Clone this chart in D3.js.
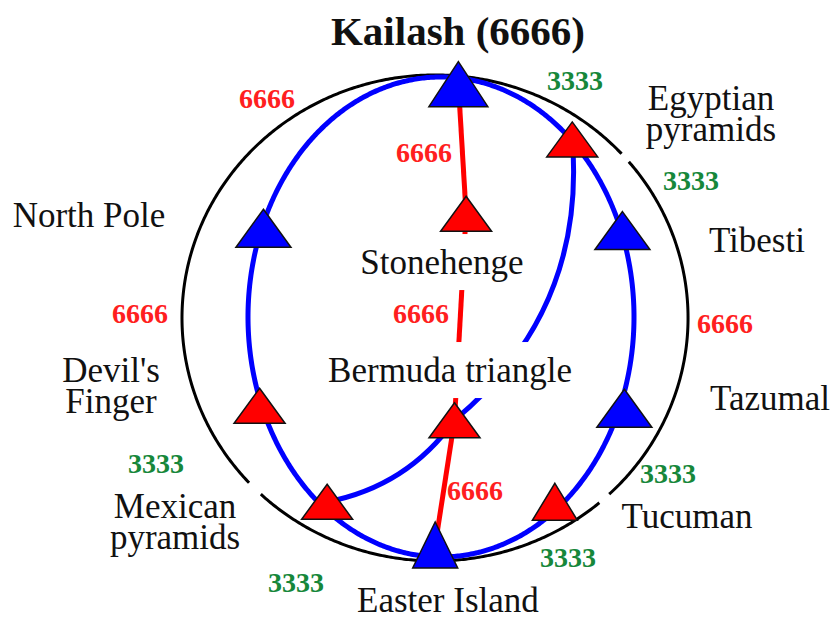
<!DOCTYPE html>
<html>
<head>
<meta charset="utf-8">
<script src="https://cdn.jsdelivr.net/npm/d3@7"></script>
<style>
  html, body { margin: 0; padding: 0; background: #fff; }
  svg { display: block; }
  .name { font-family: "Liberation Serif", "Times New Roman", serif; font-size: 35px; fill: #111; }
  .title { font-weight: bold; font-size: 41px; }
  .value { font-family: "Liberation Serif", "Times New Roman", serif; font-weight: bold; font-size: 28px; }
</style>
</head>
<body>
<div id="chart"></div>
<script>
// places, x / y in ring units (the blue ring is the unit circle, y up)
const places = ['Kailash', 'Egyptian pyramids', 'Tibesti', 'Tazumal', 'Tucuman', 'Easter Island',
  'Mexican pyramids', "Devil's Finger", 'North Pole', 'Stonehenge', 'Bermuda triangle']
const placeText = ['Kailash (6666)', 'Egyptian|pyramids', 'Tibesti', 'Tazumal', 'Tucuman', 'Easter Island',
  'Mexican|pyramids', "Devil's|Finger", 'North Pole', 'Stonehenge', 'Bermuda triangle']
const placeKind = ['blue', 'red', 'blue', 'blue', 'red', 'blue', 'red', 'red', 'blue', 'red', 'red']
const placeX = [0.09, 0.68, 0.94, 0.95, 0.59, -0.03, -0.59, -0.94, -0.92, 0.13, 0.07]
const placeY = [0.97, 0.74, 0.36, -0.38, -0.77, -0.95, -0.77, -0.37, 0.37, 0.43, -0.43]

// links between places and the number written on them
const linkFrom = ['Kailash', 'Egyptian pyramids', 'Tibesti', 'Tazumal', 'Tucuman', 'Easter Island',
  'Mexican pyramids', "Devil's Finger", 'North Pole', 'Kailash', 'Stonehenge', 'Bermuda triangle',
  'Egyptian pyramids', 'Bermuda triangle']
const linkTo = ['Egyptian pyramids', 'Tibesti', 'Tazumal', 'Tucuman', 'Easter Island', 'Mexican pyramids',
  "Devil's Finger", 'North Pole', 'Kailash', 'Stonehenge', 'Bermuda triangle', 'Easter Island',
  'Bermuda triangle', 'Mexican pyramids']
const linkType = ['ring', 'ring', 'ring', 'ring', 'ring', 'ring', 'ring', 'ring', 'ring',
  'axis', 'axis', 'axis', 'cross', 'cross']
const linkValue = [3333, 3333, 6666, 3333, 3333, 3333, 3333, 6666, 6666, 6666, 6666, 6666, null, null]

// ---- layout (ring units unless noted) ----
const width = 833, height = 619
const placeLabelX = [0.088, 1.399, 1.637, 1.705, 1.275, 0.036, -1.378, -1.710, -1.824, 0.005, 0.047]
const placeLabelY = [1.133, 0.863, 0.271, -0.388, -0.879, -1.229, -0.838, -0.271, 0.375, 0.179, -0.271]
const valueLabelX = [0.694, 1.295, 1.472, 1.176, 0.658, -0.751, -1.477, -1.560, -0.902, -0.088, -0.104, 0.176]
const valueLabelY = [0.946, 0.529, -0.067, -0.692, -1.042, -1.146, -0.650, -0.025, 0.871, 0.646, -0.025, -0.763]
const outer = {cx: -0.031, cy: -0.004, rx: 1.311, ry: 1.0125, gaps: [[47.5, 50], [136.5, 139.5], [223.5, 227.3]]}
const triSize = {blue: [55, 38], red: [51, 35], 'Kailash': [59, 45], 'Easter Island': [45, 46], 'Tucuman': [45, 37]}
const bend = {cross: [0.26, 0.2]}
const colors = {blue: '#0000ff', red: '#ff0000', 6666: '#ff1f1f', 3333: '#16873a'}

const x = d3.scaleLinear().domain([-1, 1]).range([248, 634])
const y = d3.scaleLinear().domain([-1, 1]).range([557, 77])

const svg = d3.select('#chart').append('svg')
  .attr('width', width)
  .attr('height', height)

const idx = name => places.indexOf(name)
const angleOf = i => {
  const a = Math.atan2(placeX[i], placeY[i]) * 180 / Math.PI
  return a < 0 ? a + 360 : a
}
// point on an ellipse, angle in degrees clockwise from top
const ellipsePt = (t, e) => {
  const r = t * Math.PI / 180
  return [x(e.cx + e.rx * Math.sin(r)), y(e.cy + e.ry * Math.cos(r))]
}
const unit = {cx: 0, cy: 0, rx: 1, ry: 1}
const arcPts = (a, b, e) => {
  if (b < a) b += 360
  const pts = d3.range(a, b, 0.5).map(t => ellipsePt(t, e))
  pts.push(ellipsePt(b, e))
  return pts
}
const line = d3.line()

//outer black ring, drawn in pieces between the gaps
const gaps = outer.gaps
const pieces = gaps.map((g, i) => [g[1], gaps[(i + 1) % gaps.length][0]])
svg.append('g').selectAll('path')
  .data(pieces)
  .join('path')
  .attr('d', p => line(arcPts(p[0], p[1], outer)))
  .attr('fill', 'none')
  .attr('stroke', '#000')
  .attr('stroke-width', 3)

//links
const links = linkFrom.map((f, i) => ({from: idx(f), to: idx(linkTo[i]), type: linkType[i], value: linkValue[i]}))
let crossN = 0
const linkPath = l => {
  if (l.type === 'ring') return line(arcPts(angleOf(l.from), angleOf(l.to), unit))
  const p0 = [x(placeX[l.from]), y(placeY[l.from])]
  const p2 = [x(placeX[l.to]), y(placeY[l.to])]
  if (l.type === 'axis') return line([p0, p2])
  const b = bend.cross[crossN++]
  const dx = p2[0] - p0[0], dy = p2[1] - p0[1]
  const c = [(p0[0] + p2[0]) / 2 + dy * b, (p0[1] + p2[1]) / 2 - dx * b]
  const path = d3.path()
  path.moveTo(p0[0], p0[1])
  path.quadraticCurveTo(c[0], c[1], p2[0], p2[1])
  return path.toString()
}
svg.append('g').selectAll('path')
  .data(links)
  .join('path')
  .attr('d', linkPath)
  .attr('fill', 'none')
  .attr('stroke', l => l.type === 'axis' ? colors.red : colors.blue)
  .attr('stroke-width', 5)

//place names
const names = svg.append('g')
const labels = names.selectAll('text')
  .data(places)
  .join('text')
  .attr('class', (d, i) => i === 0 ? 'name title' : 'name')
  .attr('text-anchor', 'middle')
  .attr('x', (d, i) => x(placeLabelX[i]))
  .attr('y', (d, i) => y(placeLabelY[i]))
labels.selectAll('tspan')
  .data((d, i) => placeText[i].split('|').map((s, k) => ({s, k, i})))
  .join('tspan')
  .attr('x', d => x(placeLabelX[d.i]))
  .attr('dy', d => d.k ? 31 : 0)
  .text(d => d.s)

//inner names sit on white boxes that cut the lines
labels.filter(d => d === 'Stonehenge' || d === 'Bermuda triangle').each(function () {
  const b = this.getBBox()
  names.insert('rect', 'text')
    .attr('x', b.x - 6).attr('y', b.y - 9)
    .attr('width', b.width + 12).attr('height', b.height + 17)
    .attr('fill', '#fff')
})

//triangles
const tri = (w, h) => `M0,${-h / 2}L${w / 2},${h / 2}L${-w / 2},${h / 2}Z`
svg.append('g').selectAll('path')
  .data(places)
  .join('path')
  .attr('transform', (d, i) => `translate(${x(placeX[i])},${y(placeY[i])})`)
  .attr('d', (d, i) => {
    const s = triSize[d] || triSize[placeKind[i]]
    return tri(s[0], s[1])
  })
  .attr('fill', (d, i) => colors[placeKind[i]])
  .attr('stroke', '#111')
  .attr('stroke-width', 1.5)
  .attr('stroke-linejoin', 'miter')

//numbers on links
svg.append('g').selectAll('text')
  .data(links.filter(l => l.value))
  .join('text')
  .attr('class', 'value')
  .attr('text-anchor', 'middle')
  .attr('x', (l, i) => x(valueLabelX[i]))
  .attr('y', (l, i) => y(valueLabelY[i]))
  .attr('fill', l => colors[l.value])
  .text(l => l.value)
</script>
</body>
</html>
